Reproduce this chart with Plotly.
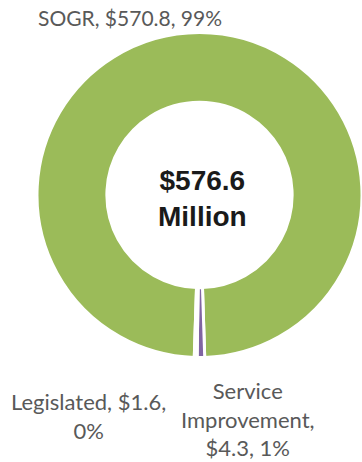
import plotly.graph_objects as go

# Capital budget breakdown ($ millions)
categories = ["SOGR", "Service Improvement", "Legislated"]
amounts = [570.8, 4.3, 1.6]
shares = ["99%", "1%", "0%"]
total_label = "$576.6<br>Million"

slice_colors = ["#9BBB59", "#8064A2", "#FFFFFF"]

W, H = 362, 462
cx, cy, r = 199.5, 195, 162.5  # donut centre and outer radius, px

total = sum(amounts)
# start angle so the first slice is centred at 12 o'clock
start = -180 * amounts[0] / total

fig = go.Figure(
    go.Pie(
        labels=categories,
        values=amounts,
        hole=0.57,
        sort=False,
        direction="clockwise",
        rotation=start,
        marker=dict(colors=slice_colors, line=dict(color="#FFFFFF", width=3)),
        textinfo="none",
        hoverinfo="label+value+percent",
        domain=dict(x=[(cx - r) / W, 1.0], y=[(H - cy - r) / H, (H - cy + r) / H]),
        showlegend=False,
    )
)

label_font = dict(family="Lato, Open Sans, sans-serif", size=22, color="#595959")


def px(x, y):
    return x / W, 1 - y / H


annotations = []
x, y = px(130, 17)
annotations.append(dict(x=x, y=y, text=f"{categories[0]}, ${amounts[0]}, {shares[0]}",
                        font=dict(label_font, size=21), showarrow=False,
                        xanchor="center", yanchor="middle"))
x, y = px(88, 416)
annotations.append(dict(x=x, y=y, text=f"{categories[2]}, ${amounts[2]},<br>{shares[2]}",
                        font=label_font, showarrow=False, xanchor="center", yanchor="middle"))
x, y = px(248, 419)
annotations.append(dict(x=x, y=y, text=f"Service<br>Improvement,<br>${amounts[1]}, {shares[1]}",
                        font=label_font, showarrow=False, xanchor="center", yanchor="middle"))
x, y = px(203, 198)
annotations.append(dict(x=x, y=y, text=f"<b>{total_label}</b>",
                        font=dict(family="Liberation Sans, Arial, sans-serif", size=28, color="#1A1A1A"),
                        showarrow=False, xanchor="center", yanchor="middle"))

fig.update_layout(
    width=W,
    height=H,
    margin=dict(l=0, r=0, t=0, b=0),
    paper_bgcolor="#FFFFFF",
    plot_bgcolor="#FFFFFF",
    annotations=annotations,
)

fig.write_html("out.html")
